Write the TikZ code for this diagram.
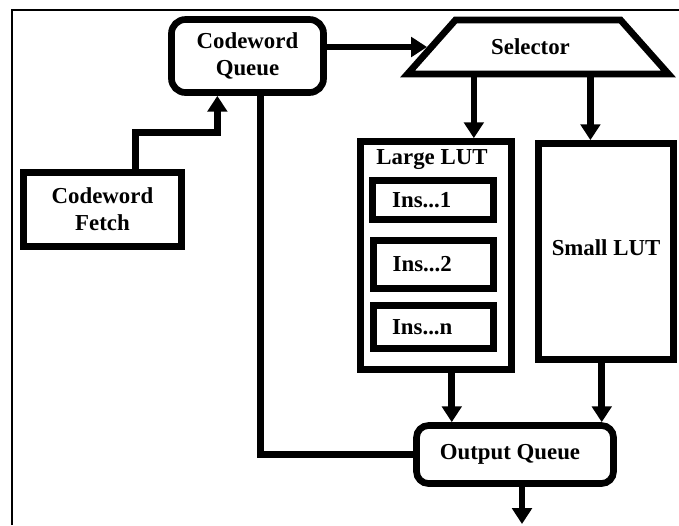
\documentclass[tikz,border=0pt]{standalone}
\usepackage{fontspec}
\setmainfont{Liberation Serif}
\usepackage{tikz}
\usetikzlibrary{arrows.meta,shapes.geometric,calc}

\newcommand{\unit}{0.02cm}
\newcommand{\labelfont}{\fontsize{13}{15.5}\selectfont\bfseries}

\tikzset{
  blk/.style={draw, line width=3.8pt, font=\labelfont, align=center, inner sep=0pt},
  rblk/.style={blk, rounded corners=0.28cm},
  arr/.style={line width=3.8pt, -{Triangle[width=11pt,length=9pt]}},
  wire/.style={line width=3.8pt},
}

\begin{document}
\begin{tikzpicture}[x=\unit, y=-\unit]
            \useasboundingbox (0,0) rectangle (679,525);
            \draw [line width=1.2pt] (12,525) -- (12,10) -- (679,10);

            \node (cwq) at (247.5, 56) [rblk, minimum width=152*\unit, minimum height=73*\unit] {Codeword\\Queue};
            \node (fetch) at (102.5, 209.5) [blk, minimum width=158*\unit, minimum height=74*\unit] {Codeword\\Fetch\hspace{0.1cm}};
            \node (selector) at (538, 47) [blk, trapezium, trapezium left angle=41, trapezium right angle=41, trapezium stretches=true, minimum width=262*\unit, minimum height=54*\unit] {\hspace{-0.3cm}Selector};
            \node (llut) at (436, 255.5) [blk, minimum width=151*\unit, minimum height=228*\unit] {};
            \node (llutlabel) at (432, 160) [font=\labelfont, inner sep=0pt] {Large LUT};
            \node (ins1) at (433, 200) [blk, minimum width=121*\unit, minimum height=39*\unit] {Ins...1\hspace{0.45cm}};
            \node (ins2) at (433.5, 264.5) [blk, minimum width=120*\unit, minimum height=48*\unit] {Ins...2\hspace{0.45cm}};
            \node (insn) at (433.5, 327) [blk, minimum width=120*\unit, minimum height=43*\unit] {Ins...n\hspace{0.45cm}};
            \node (slut) at (606, 251.5) [blk, minimum width=135*\unit, minimum height=216*\unit] {\raisebox{0.16cm}{Small LUT}};
            \node (oq) at (515, 454.5) [rblk, rounded corners=0.24cm, minimum width=197*\unit, minimum height=58*\unit] {Output Queue\hspace{0.2cm}};
            \coordinate (out) at (522, 524);

            \coordinate (f1) at ($(fetch.north west)!0.7!(fetch.north east)$);
            \coordinate (q1) at ($(cwq.south west)!0.31!(cwq.south east)$);
            \coordinate (q2) at ($(cwq.south west)!0.58!(cwq.south east)$);
            \coordinate (s1) at ($(llut.north west)!0.74!(llut.north east)$);
            \coordinate (s2) at ($(slut.north west)!0.39!(slut.north east)$);
            \coordinate (l1) at ($(llut.south west)!0.6!(llut.south east)$);
            \coordinate (l2) at ($(slut.south west)!0.47!(slut.south east)$);

            \draw [arr] (f1) |- ($(f1)!0.5!(q1)$) -| (q1);
            \draw [arr] (cwq.east |- selector.west) -- (selector.west);
            \draw [wire] (q2) |- (oq.west);
            \draw [arr] (selector.south -| s1) -- (s1);
            \draw [arr] (selector.south -| s2) -- (s2);
            \draw [arr] (l1) -- (oq.north -| l1);
            \draw [arr] (l2) -- (oq.north -| l2);
            \draw [arr] (oq.south -| out) -- (out);
        \end{tikzpicture}
\end{document}
